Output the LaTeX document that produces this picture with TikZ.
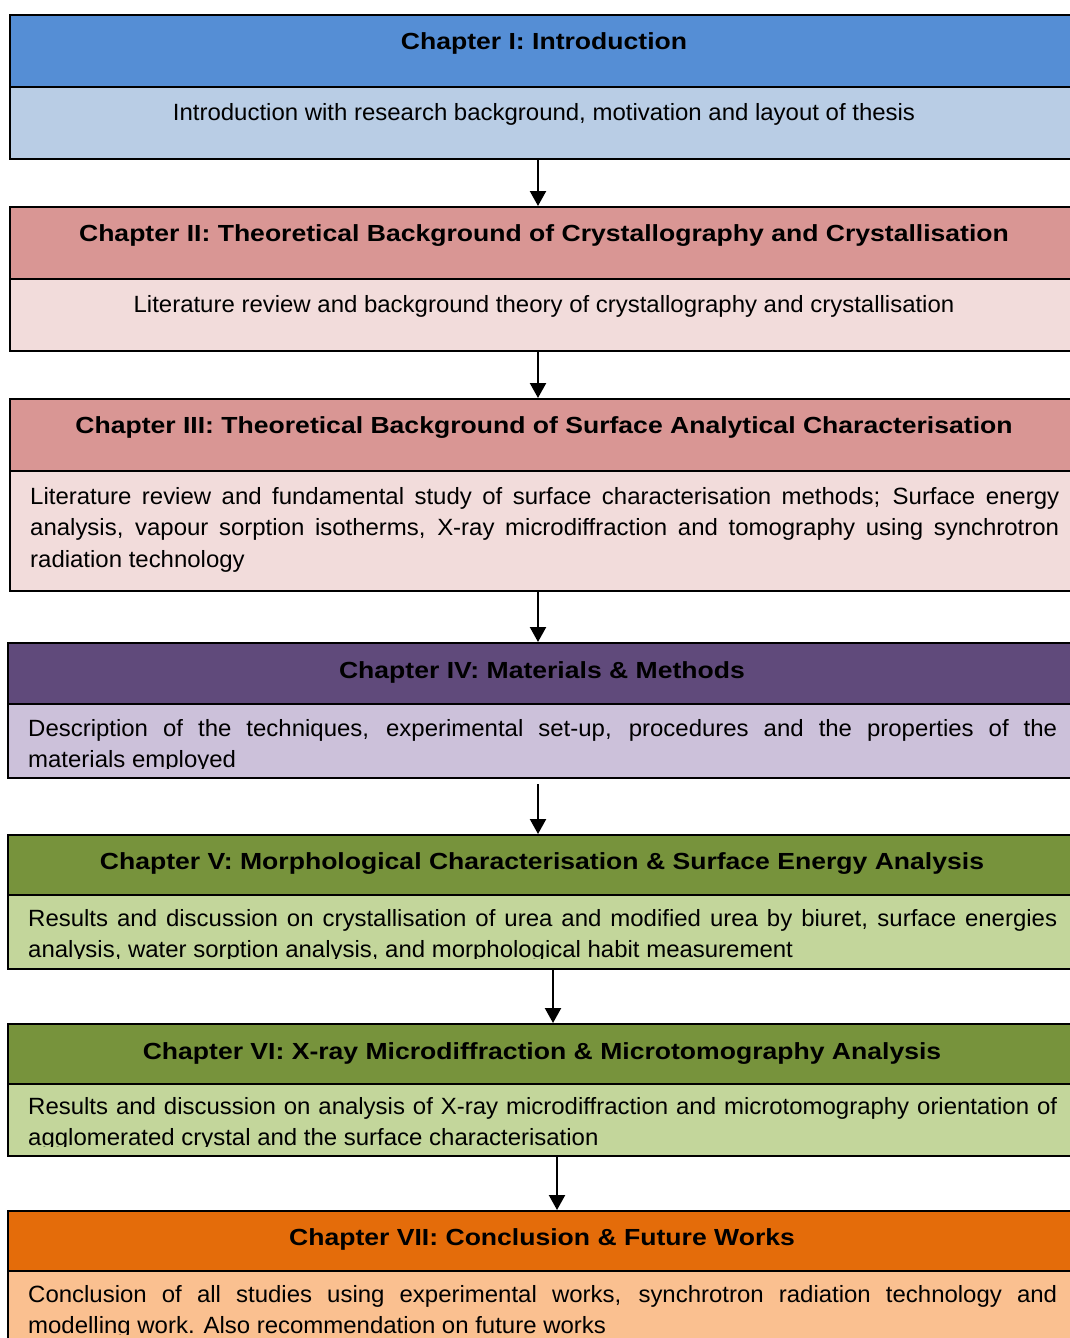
\documentclass[tikz,border=0pt]{standalone}
\usepackage{fontspec}
\setmainfont{Liberation Sans}[FakeStretch=1.02, BoldFeatures={FakeStretch=1.14}]
\usetikzlibrary{arrows.meta}

\definecolor{blueHead}{HTML}{558ED5}
\definecolor{blueBody}{HTML}{B9CDE5}
\definecolor{roseHead}{HTML}{D99694}
\definecolor{roseBody}{HTML}{F2DCDB}
\definecolor{plumHead}{HTML}{604A7B}
\definecolor{plumBody}{HTML}{CCC1DA}
\definecolor{oliveHead}{HTML}{77933C}
\definecolor{oliveBody}{HTML}{C3D69B}
\definecolor{amberHead}{HTML}{E46C0A}
\definecolor{amberBody}{HTML}{FAC090}

\tikzset{
  panel/.style={draw=black, line width=2pt, anchor=north west, inner sep=0pt,
                minimum width=1072pt},
  headtext/.style={anchor=base, inner sep=0pt, font=\fontsize{23.3}{26}\selectfont\bfseries},
  linetext/.style={anchor=base, inner sep=0pt, font=\fontsize{23.5}{26}\selectfont},
  paratext/.style={anchor=north west, inner sep=0pt, text width=1029pt, align=justify,
                   font=\fontsize{23.5}{31.5}\selectfont},
  flow/.style={draw=black, line width=2.2pt, -{Triangle[length=15pt,width=16pt]}}
}

\begin{document}
\begin{tikzpicture}[x=1pt,y=-1pt]
\useasboundingbox (0,0) rectangle (1070,1338);
\clip (0,0) rectangle (1070,1338);

% Chapter I
\node[panel, fill=blueHead, minimum height=72pt] (h1) at (9,14) {};
\node[panel, fill=blueBody, minimum height=72pt] (b1) at (9,86) {};
\node[headtext] (t1) at (544,49) {Chapter I: Introduction};
\node[linetext] (d1) at (544,120) {Introduction with research background, motivation and layout of thesis};

% Chapter II
\node[panel, fill=roseHead, minimum height=72pt] (h2) at (9,206) {};
\node[panel, fill=roseBody, minimum height=72pt] (b2) at (9,278) {};
\node[headtext] (t2) at (544,241) {Chapter II: Theoretical Background of Crystallography and Crystallisation};
\node[linetext] (d2) at (544,312) {Literature review and background theory of crystallography and crystallisation};

% Chapter III
\node[panel, fill=roseHead, minimum height=72pt] (h3) at (9,398) {};
\node[panel, fill=roseBody, minimum height=120pt] (b3) at (9,470) {};
\node[headtext] (t3) at (544,433) {Chapter III: Theoretical Background of Surface Analytical Characterisation};
\node[paratext] (d3) at (30,482) {\strut Literature review and fundamental study of surface characterisation methods; Surface energy\linebreak
analysis, vapour sorption isotherms, X-ray microdiffraction and tomography using synchrotron\linebreak
radiation technology};

% Chapter IV
\node[panel, fill=plumHead, minimum height=61pt] (h4) at (7,642) {};
\node[panel, fill=plumBody, minimum height=74pt] (b4) at (7,703) {};
\node[headtext] (t4) at (542,678) {Chapter IV: Materials \& Methods};
\begin{scope}
  \clip (7,703) rectangle (1079,768);
  \node[paratext] (d4) at (28,714) {\strut Description of the techniques, experimental set-up, procedures and the properties of the\linebreak
  materials employed};
\end{scope}

% Chapter V
\node[panel, fill=oliveHead, minimum height=60pt] (h5) at (7,834) {};
\node[panel, fill=oliveBody, minimum height=74pt] (b5) at (7,894) {};
\node[headtext] (t5) at (542,869) {Chapter V: Morphological Characterisation \& Surface Energy Analysis};
\begin{scope}
  \clip (7,894) rectangle (1079,958);
  \node[paratext] (d5) at (28,904) {\strut Results and discussion on crystallisation of urea and modified urea by biuret, surface energies\linebreak
  analysis, water sorption analysis, and morphological habit measurement};
\end{scope}

% Chapter VI
\node[panel, fill=oliveHead, minimum height=60pt] (h6) at (7,1023) {};
\node[panel, fill=oliveBody, minimum height=72pt] (b6) at (7,1083) {};
\node[headtext] (t6) at (542,1059) {Chapter VI: X-ray Microdiffraction \& Microtomography Analysis};
\begin{scope}
  \clip (7,1083) rectangle (1079,1146);
  \node[paratext] (d6) at (28,1092) {\strut Results and discussion on analysis of X-ray microdiffraction and microtomography orientation of\linebreak
  agglomerated crystal and the surface characterisation};
\end{scope}

% Chapter VII
\node[panel, fill=amberHead, minimum height=60pt] (h7) at (7,1210) {};
\node[panel, fill=amberBody, minimum height=80pt] (b7) at (7,1270) {};
\node[headtext] (t7) at (542,1245) {Chapter VII: Conclusion \& Future Works};
\begin{scope}
  \clip (7,1270) rectangle (1079,1334.5);
  \node[paratext] (d7) at (28,1280) {\strut Conclusion of all studies using experimental works, synchrotron radiation technology and\linebreak
  modelling work. Also recommendation on future works};
\end{scope}

% Flow between chapters
\draw[flow] (b1.south -| 538,0) -- (h2.north -| 538,0);
\draw[flow] (b2.south -| 538,0) -- (h3.north -| 538,0);
\draw[flow] (b3.south -| 538,0) -- (h4.north -| 538,0);
\draw[flow] ([yshift=-5pt]b4.south -| 538,0) -- (h5.north -| 538,0);
\draw[flow] (b5.south -| 553,0) -- (h6.north -| 553,0);
\draw[flow] (b6.south -| 557,0) -- (h7.north -| 557,0);
\end{tikzpicture}
\end{document}
